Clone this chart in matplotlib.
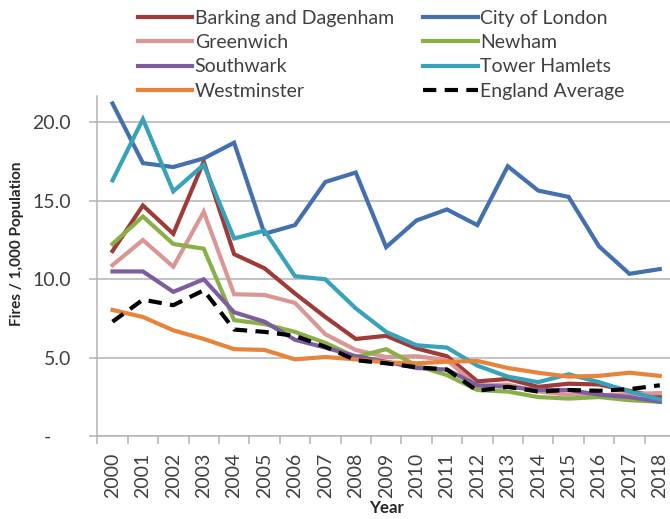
import matplotlib
matplotlib.use("Agg")
import matplotlib.pyplot as plt
from matplotlib.ticker import FixedLocator, FuncFormatter

plt.rcParams['font.family'] = ['Lato', 'DejaVu Sans']

years = [str(y) for y in range(2000, 2019)]

barking = [11.8, 14.7, 12.9, 17.5, 11.6, 10.7, 9.1, 7.6, 6.2, 6.4, 5.6, 5.1,
           3.5, 3.65, 3.15, 3.35, 3.3, 2.9, 2.5]
city_of_london = [21.2, 17.4, 17.15, 17.7, 18.7, 12.9, 13.45, 16.2, 16.8, 12.05, 13.75, 14.45,
                  13.45, 17.2, 15.65, 15.25, 12.1, 10.35, 10.65]
greenwich = [10.9, 12.5, 10.8, 14.3, 9.05, 9.0, 8.5, 6.5, 5.5, 5.05, 5.1, 4.85,
             3.2, 3.3, 2.85, 2.65, 2.6, 2.7, 2.75]
newham = [12.25, 14.0, 12.25, 11.95, 7.4, 7.15, 6.65, 5.95, 5.05, 5.55, 4.5, 3.9,
          2.95, 2.85, 2.5, 2.4, 2.5, 2.3, 2.2]
southwark = [10.5, 10.5, 9.2, 10.0, 7.9, 7.3, 6.15, 5.65, 5.1, 4.75, 4.35, 4.25,
             3.25, 3.15, 2.95, 2.95, 2.65, 2.5, 2.2]
tower_hamlets = [16.3, 20.2, 15.6, 17.3, 12.6, 13.1, 10.2, 10.0, 8.15, 6.65, 5.8, 5.65,
                 4.5, 3.8, 3.45, 3.95, 3.45, 2.85, 2.35]
westminster = [8.05, 7.6, 6.75, 6.2, 5.55, 5.5, 4.9, 5.05, 4.9, 4.7, 4.65, 4.75,
               4.8, 4.35, 4.05, 3.8, 3.85, 4.05, 3.85]
england_avg = [7.3, 8.7, 8.35, 9.3, 6.8, 6.65, 6.4, 5.7, 4.85, 4.65, 4.4, 4.25,
               2.9, 3.15, 2.85, 2.95, 2.9, 3.0, 3.25]

series = [
    ("Barking and Dagenham", barking, "#9E3A38"),
    ("City of London", city_of_london, "#4471AD"),
    ("Greenwich", greenwich, "#D99694"),
    ("Newham", newham, "#89B047"),
    ("Southwark", southwark, "#7D5D9E"),
    ("Tower Hamlets", tower_hamlets, "#38A2BA"),
    ("Westminster", westminster, "#E8843A"),
]

W, H = 670, 519
fig = plt.figure(figsize=(W / 100, H / 100), dpi=100)
ax_left, ax_right, ax_bottom, ax_top = 97.3, 675.0, 436.3, 96.0
ax = fig.add_axes([ax_left / W, 1 - ax_bottom / H, (ax_right - ax_left) / W, (ax_bottom - ax_top) / H])

x = list(range(len(years)))
handles = {}
for name, vals, col in series:
    h, = ax.plot(x, vals, color=col, lw=3.0, solid_joinstyle='miter', label=name)
    handles[name] = h
h, = ax.plot(x, england_avg, color='black', lw=3.0, ls=(0, (3.2, 2.0)), label="England Average")
handles["England Average"] = h

ax.set_xlim(-0.5, len(years) - 0.5)
ax.set_ylim(0, (ax_bottom - ax_top) / 15.7)

ax.yaxis.set_major_locator(FixedLocator([0, 5, 10, 15, 20]))
ax.yaxis.set_major_formatter(FuncFormatter(lambda v, p: "-    " if v == 0 else f"{v:.1f}"))
ax.grid(axis='y', color='#B3B3B3', lw=1.1)
ax.set_axisbelow(True)

ax.set_xticks(x)
ax.set_xticklabels(years, rotation=90)
ax.set_xticks([i - 0.5 for i in range(len(years) + 1)], minor=True)
ax.tick_params(axis='x', which='major', length=0, pad=12, labelsize=14, colors='#404040')
ax.tick_params(axis='x', which='minor', length=6, width=1.1, color='#B3B3B3', direction='out')
ax.tick_params(axis='y', which='major', length=6, width=1.1, color='#B3B3B3', direction='out',
               pad=13, labelsize=14, labelcolor='#404040')

for s in ['top', 'right']:
    ax.spines[s].set_visible(False)
for s in ['left', 'bottom']:
    ax.spines[s].set_color('#B3B3B3')
    ax.spines[s].set_linewidth(1.1)

fig.text(17 / W, 1 - 244 / H, "Fires / 1,000 Population", rotation=90, ha='center', va='center',
         fontsize=11, fontweight='bold', color='#262626')
fig.text(387 / W, 1 - 508 / H, "Year", ha='center', va='center', fontsize=12.2, fontweight='bold',
         color='#262626')

order = ["Barking and Dagenham", "Greenwich", "Southwark", "Westminster",
         "City of London", "Newham", "Tower Hamlets", "England Average"]
leg = fig.legend([handles[n] for n in order], order, ncol=2, loc='upper left',
                 bbox_to_anchor=(138 / W, 1 - 10 / H), frameon=False, fontsize=14,
                 handlelength=2.8, handletextpad=0.12, columnspacing=1.5, labelspacing=0.37,
                 borderaxespad=0, borderpad=0)
for t in leg.get_texts():
    t.set_color('#404040')

fig.savefig("out.png", dpi=100)
